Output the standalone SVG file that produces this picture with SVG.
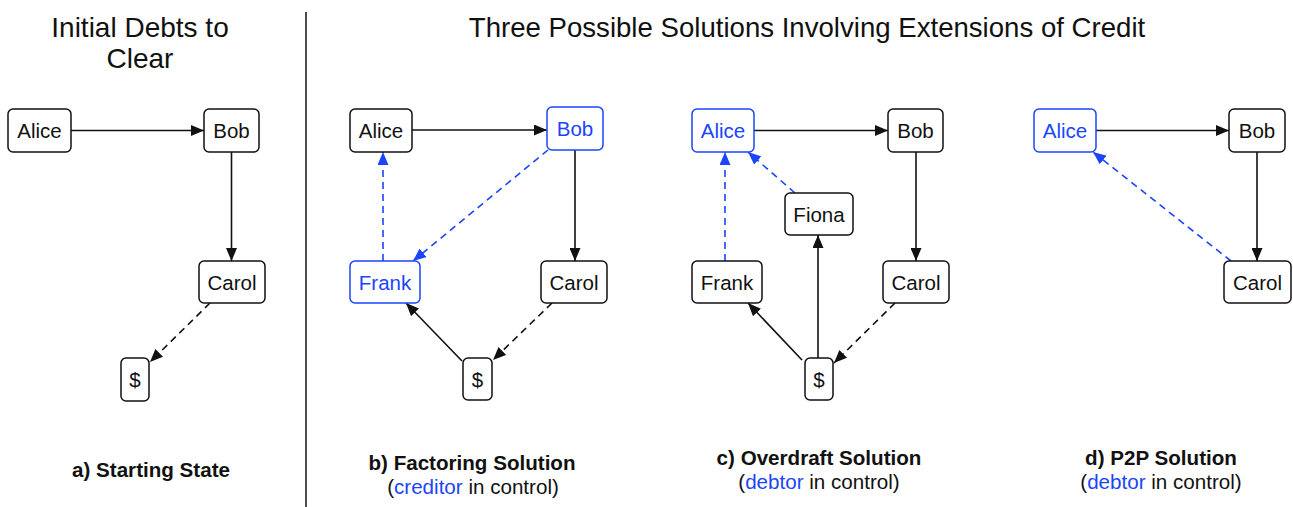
<svg xmlns="http://www.w3.org/2000/svg" width="1293" height="507" viewBox="0 0 1293 507">
  <style>
    text { font-family: "Liberation Sans", Arial, Helvetica, sans-serif; fill: #111; }
    .title { font-size: 27.6px; text-anchor: middle; }
    .title.left { font-size: 28px; }
    .cap { font-size: 20.6px; font-weight: bold; text-anchor: middle; }
    .sub { font-size: 20.6px; text-anchor: middle; }
    .hl { fill: #1b45fb; }
    .node rect { fill: #fff; stroke: #111; stroke-width: 1.5; }
    .node text { font-size: 20.5px; text-anchor: middle; }
    .node.blue rect { stroke: #1b45fb; }
    .node.blue text { fill: #1b45fb; }
    .edge { fill: none; stroke: #111; stroke-width: 1.6; marker-end: url(#head); }
    .dash { stroke-dasharray: 7 5; }
    .edge.blue { stroke: #1b45fb; marker-end: url(#headBlue); }
  </style>
  <defs>
    <marker id="head" markerUnits="userSpaceOnUse" markerWidth="13" markerHeight="11" refX="13" refY="5.5" orient="auto">
      <path d="M0,0 L13,5.5 L0,11 z" fill="#111"/>
    </marker>
    <marker id="headBlue" markerUnits="userSpaceOnUse" markerWidth="13" markerHeight="11" refX="13" refY="5.5" orient="auto">
      <path d="M0,0 L13,5.5 L0,11 z" fill="#1b45fb"/>
    </marker>
  </defs>

  <rect width="1293" height="507" fill="#fff"/>

  <!-- headings -->
  <text class="title left" x="140" y="37">Initial Debts to</text>
  <text class="title left" x="140" y="68">Clear</text>
  <text class="title" x="807" y="37">Three Possible Solutions Involving Extensions of Credit</text>
  <line x1="306" y1="12" x2="306" y2="507" stroke="#111" stroke-width="1.5"/>

  <!-- captions -->
  <text class="cap" x="151" y="477">a) Starting State</text>
  <text class="cap" x="472" y="470">b) Factoring Solution</text>
  <text class="sub" x="473" y="494">(<tspan class="hl">creditor</tspan> in control)</text>
  <text class="cap" x="819" y="465">c) Overdraft Solution</text>
  <text class="sub" x="819" y="489">(<tspan class="hl">debtor</tspan> in control)</text>
  <text class="cap" x="1161" y="465">d) P2P Solution</text>
  <text class="sub" x="1161" y="489">(<tspan class="hl">debtor</tspan> in control)</text>

  <!-- connectors -->
  <g id="connectors">
    <!-- a -->
    <line class="edge" x1="71" y1="130.5" x2="204" y2="130.5"/>
    <line class="edge" x1="231.5" y1="152" x2="231.5" y2="261"/>
    <line class="edge dash" x1="210" y1="303" x2="150" y2="362"/>
    <!-- b -->
    <line class="edge" x1="412" y1="130" x2="547" y2="130"/>
    <line class="edge" x1="575" y1="150" x2="575" y2="261"/>
    <line class="edge dash blue" x1="383" y1="261" x2="383" y2="152"/>
    <line class="edge dash blue" x1="548" y1="150" x2="413" y2="261"/>
    <line class="edge dash" x1="552" y1="303" x2="493" y2="360"/>
    <line class="edge" x1="462" y1="361" x2="406" y2="303"/>
    <!-- c -->
    <line class="edge" x1="754" y1="130.5" x2="888" y2="130.5"/>
    <line class="edge" x1="916" y1="152" x2="916" y2="261"/>
    <line class="edge dash blue" x1="725" y1="261" x2="725" y2="152"/>
    <line class="edge dash blue" x1="795" y1="193" x2="748" y2="152"/>
    <line class="edge" x1="818" y1="358" x2="818" y2="235"/>
    <line class="edge" x1="802" y1="360" x2="748" y2="303"/>
    <line class="edge dash" x1="895" y1="303" x2="834" y2="363"/>
    <!-- d -->
    <line class="edge" x1="1096" y1="130.5" x2="1229" y2="130.5"/>
    <line class="edge" x1="1257" y1="152" x2="1257" y2="261"/>
    <line class="edge dash blue" x1="1231" y1="261" x2="1093" y2="152"/>
  </g>

  <!-- a) starting state -->
  <g id="a-alice" class="node"><rect x="8" y="109" width="63" height="43" rx="5"/><text x="39.5" y="138">Alice</text></g>
  <g id="a-bob" class="node"><rect x="204" y="109" width="55" height="43" rx="5"/><text x="231.5" y="138">Bob</text></g>
  <g id="a-carol" class="node"><rect x="199" y="261" width="66" height="42" rx="5"/><text x="232" y="289.5">Carol</text></g>
  <g id="a-cash" class="node"><rect x="121" y="358" width="28" height="43" rx="5"/><text x="135" y="387">$</text></g>

  <!-- b) factoring -->
  <g id="b-alice" class="node"><rect x="350" y="109" width="62" height="43" rx="5"/><text x="381" y="138">Alice</text></g>
  <g id="b-bob" class="node blue"><rect x="547" y="107" width="56" height="43" rx="5"/><text x="575" y="136">Bob</text></g>
  <g id="b-frank" class="node blue"><rect x="350" y="261" width="70" height="42" rx="5"/><text x="385" y="289.5">Frank</text></g>
  <g id="b-carol" class="node"><rect x="541" y="261" width="66" height="42" rx="5"/><text x="574" y="289.5">Carol</text></g>
  <g id="b-cash" class="node"><rect x="463" y="358" width="29" height="42" rx="5"/><text x="477.5" y="386.5">$</text></g>

  <!-- c) overdraft -->
  <g id="c-alice" class="node blue"><rect x="692" y="109" width="62" height="43" rx="5"/><text x="723" y="138">Alice</text></g>
  <g id="c-bob" class="node"><rect x="888" y="109" width="55" height="43" rx="5"/><text x="915.5" y="138">Bob</text></g>
  <g id="c-fiona" class="node"><rect x="785" y="193" width="68" height="42" rx="5"/><text x="819" y="221.5">Fiona</text></g>
  <g id="c-frank" class="node"><rect x="692" y="261" width="70" height="42" rx="5"/><text x="727" y="289.5">Frank</text></g>
  <g id="c-carol" class="node"><rect x="883" y="261" width="66" height="42" rx="5"/><text x="916" y="289.5">Carol</text></g>
  <g id="c-cash" class="node"><rect x="805" y="358" width="28" height="42" rx="5"/><text x="819" y="386.5">$</text></g>

  <!-- d) p2p -->
  <g id="d-alice" class="node blue"><rect x="1034" y="109" width="62" height="43" rx="5"/><text x="1065" y="138">Alice</text></g>
  <g id="d-bob" class="node"><rect x="1229" y="109" width="56" height="43" rx="5"/><text x="1257" y="138">Bob</text></g>
  <g id="d-carol" class="node"><rect x="1224" y="261" width="67" height="42" rx="5"/><text x="1257.5" y="289.5">Carol</text></g>
</svg>
